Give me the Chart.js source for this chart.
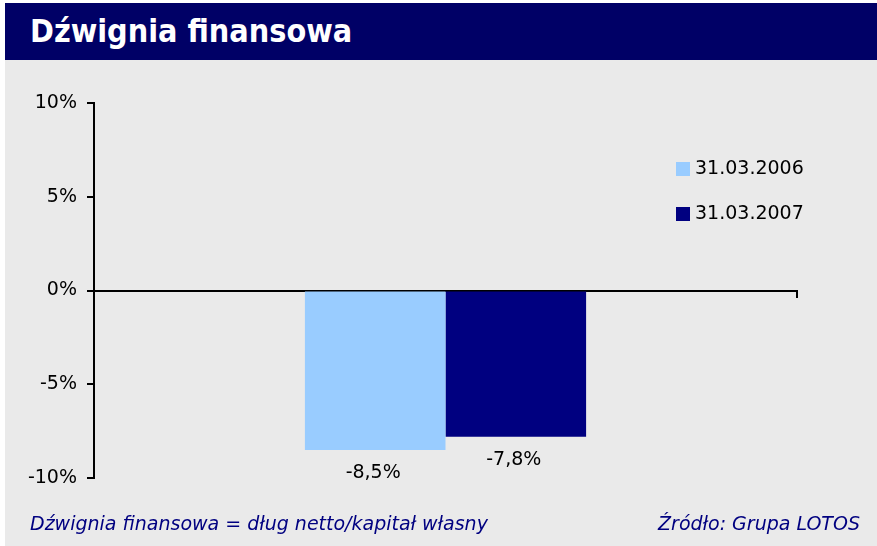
<!DOCTYPE html>
<html>
<head>
<meta charset="utf-8">
<script src="https://cdn.jsdelivr.net/npm/chart.js@4"></script>
<style>
  html, body { margin: 0; padding: 0; background: #fff; }
  #page { position: relative; width: 877px; height: 546px; overflow: hidden; }
  #head {
    position: absolute; left: 5px; top: 3px; width: 872px; height: 57px;
    background: #000066; color: #fff;
    font: bold 32px "DejaVu Sans Condensed", "DejaVu Sans", sans-serif;
    line-height: 57px; padding-left: 25px; box-sizing: border-box;
  }
  #body { position: absolute; left: 5px; top: 60px; width: 872px; height: 486px; background: #eaeaea; }
  #wrap { position: absolute; left: 0; top: 0; width: 872px; height: 486px; }
  .foot {
    position: absolute; top: 452px; font: italic 19px "DejaVu Sans", sans-serif;
    color: #000080; white-space: nowrap;
  }
</style>
</head>
<body>
<div id="page">
  <div id="head">Dźwignia finansowa</div>
  <div id="body">
    <div id="wrap"><canvas id="chart"></canvas></div>
    <div class="foot" style="left:25px">Dźwignia finansowa = dług netto/kapitał własny</div>
    <div class="foot" style="right:17px">Źródło: Grupa LOTOS</div>
  </div>
</div>
<script>
const categories = [''];
const seriesNames = ['31.03.2006', '31.03.2007'];
const values2006 = [-8.5];
const values2007 = [-7.8];
const yTicks = [-10, -5, 0, 5, 10];
const colors = ['#99ccff', '#000080'];

const fontFamily = '"DejaVu Sans", sans-serif';

// value labels under the bars, e.g. "-8,5%"
const valueLabels = {
  id: 'valueLabels',
  afterDatasetsDraw(chart) {
    const ctx = chart.ctx;
    ctx.save();
    ctx.font = '19px ' + fontFamily;
    ctx.fillStyle = '#000';
    ctx.textAlign = 'center';
    ctx.textBaseline = 'middle';
    chart.data.datasets.forEach((ds, i) => {
      chart.getDatasetMeta(i).data.forEach((bar, j) => {
        const txt = ds.data[j].toFixed(1).replace('.', ',') + '%';
        ctx.fillText(txt, bar.x - 2, bar.y + 23);
      });
    });
    ctx.restore();
  }
};

// legend drawn inside the plot, on the right
const boxLegend = {
  id: 'boxLegend',
  afterDraw(chart, args, opts) {
    const ctx = chart.ctx;
    ctx.save();
    ctx.font = '19px ' + fontFamily;
    ctx.textBaseline = 'middle';
    chart.data.datasets.forEach((ds, i) => {
      const y = opts.top + i * opts.rowGap;
      ctx.fillStyle = ds.backgroundColor;
      ctx.fillRect(opts.left, y - 7, 14, 14);
      ctx.fillStyle = '#000';
      ctx.fillText(ds.label, opts.left + 19, y);
    });
    ctx.restore();
  }
};

new Chart(document.getElementById('chart'), {
  type: 'bar',
  plugins: [valueLabels, boxLegend],
  data: {
    labels: categories,
    datasets: [
      { label: seriesNames[0], data: values2006, backgroundColor: colors[0] },
      { label: seriesNames[1], data: values2007, backgroundColor: colors[1] }
    ]
  },
  options: {
    responsive: true,
    maintainAspectRatio: false,
    animation: false,
    layout: { padding: { top: 43, right: 80, bottom: 68, left: 0 } },
    datasets: { bar: { categoryPercentage: 0.4, barPercentage: 1.0 } },
    plugins: {
      legend: { display: false },
      tooltip: { enabled: false },
      boxLegend: { left: 671, top: 109, rowGap: 45 }
    },
    scales: {
      x: {
        position: { y: 0 },
        grid: { display: true, drawOnChartArea: false, offset: true, tickLength: 6, color: '#000', lineWidth: 2 },
        border: { display: true, color: '#000', width: 2 },
        ticks: { display: false }
      },
      y: {
        min: yTicks[0],
        max: yTicks[yTicks.length - 1],
        afterBuildTicks: (scale) => { scale.ticks = yTicks.map(v => ({ value: v })); },
        afterFit: (scale) => { scale.width = 89; },
        grid: { display: true, drawOnChartArea: false, tickLength: 7, color: '#000', lineWidth: 2 },
        border: { display: true, color: '#000', width: 2 },
        ticks: {
          color: '#000',
          padding: 10,
          font: { family: fontFamily, size: 19 },
          callback: (v) => v + '%'
        }
      }
    }
  }
});
</script>
</body>
</html>
